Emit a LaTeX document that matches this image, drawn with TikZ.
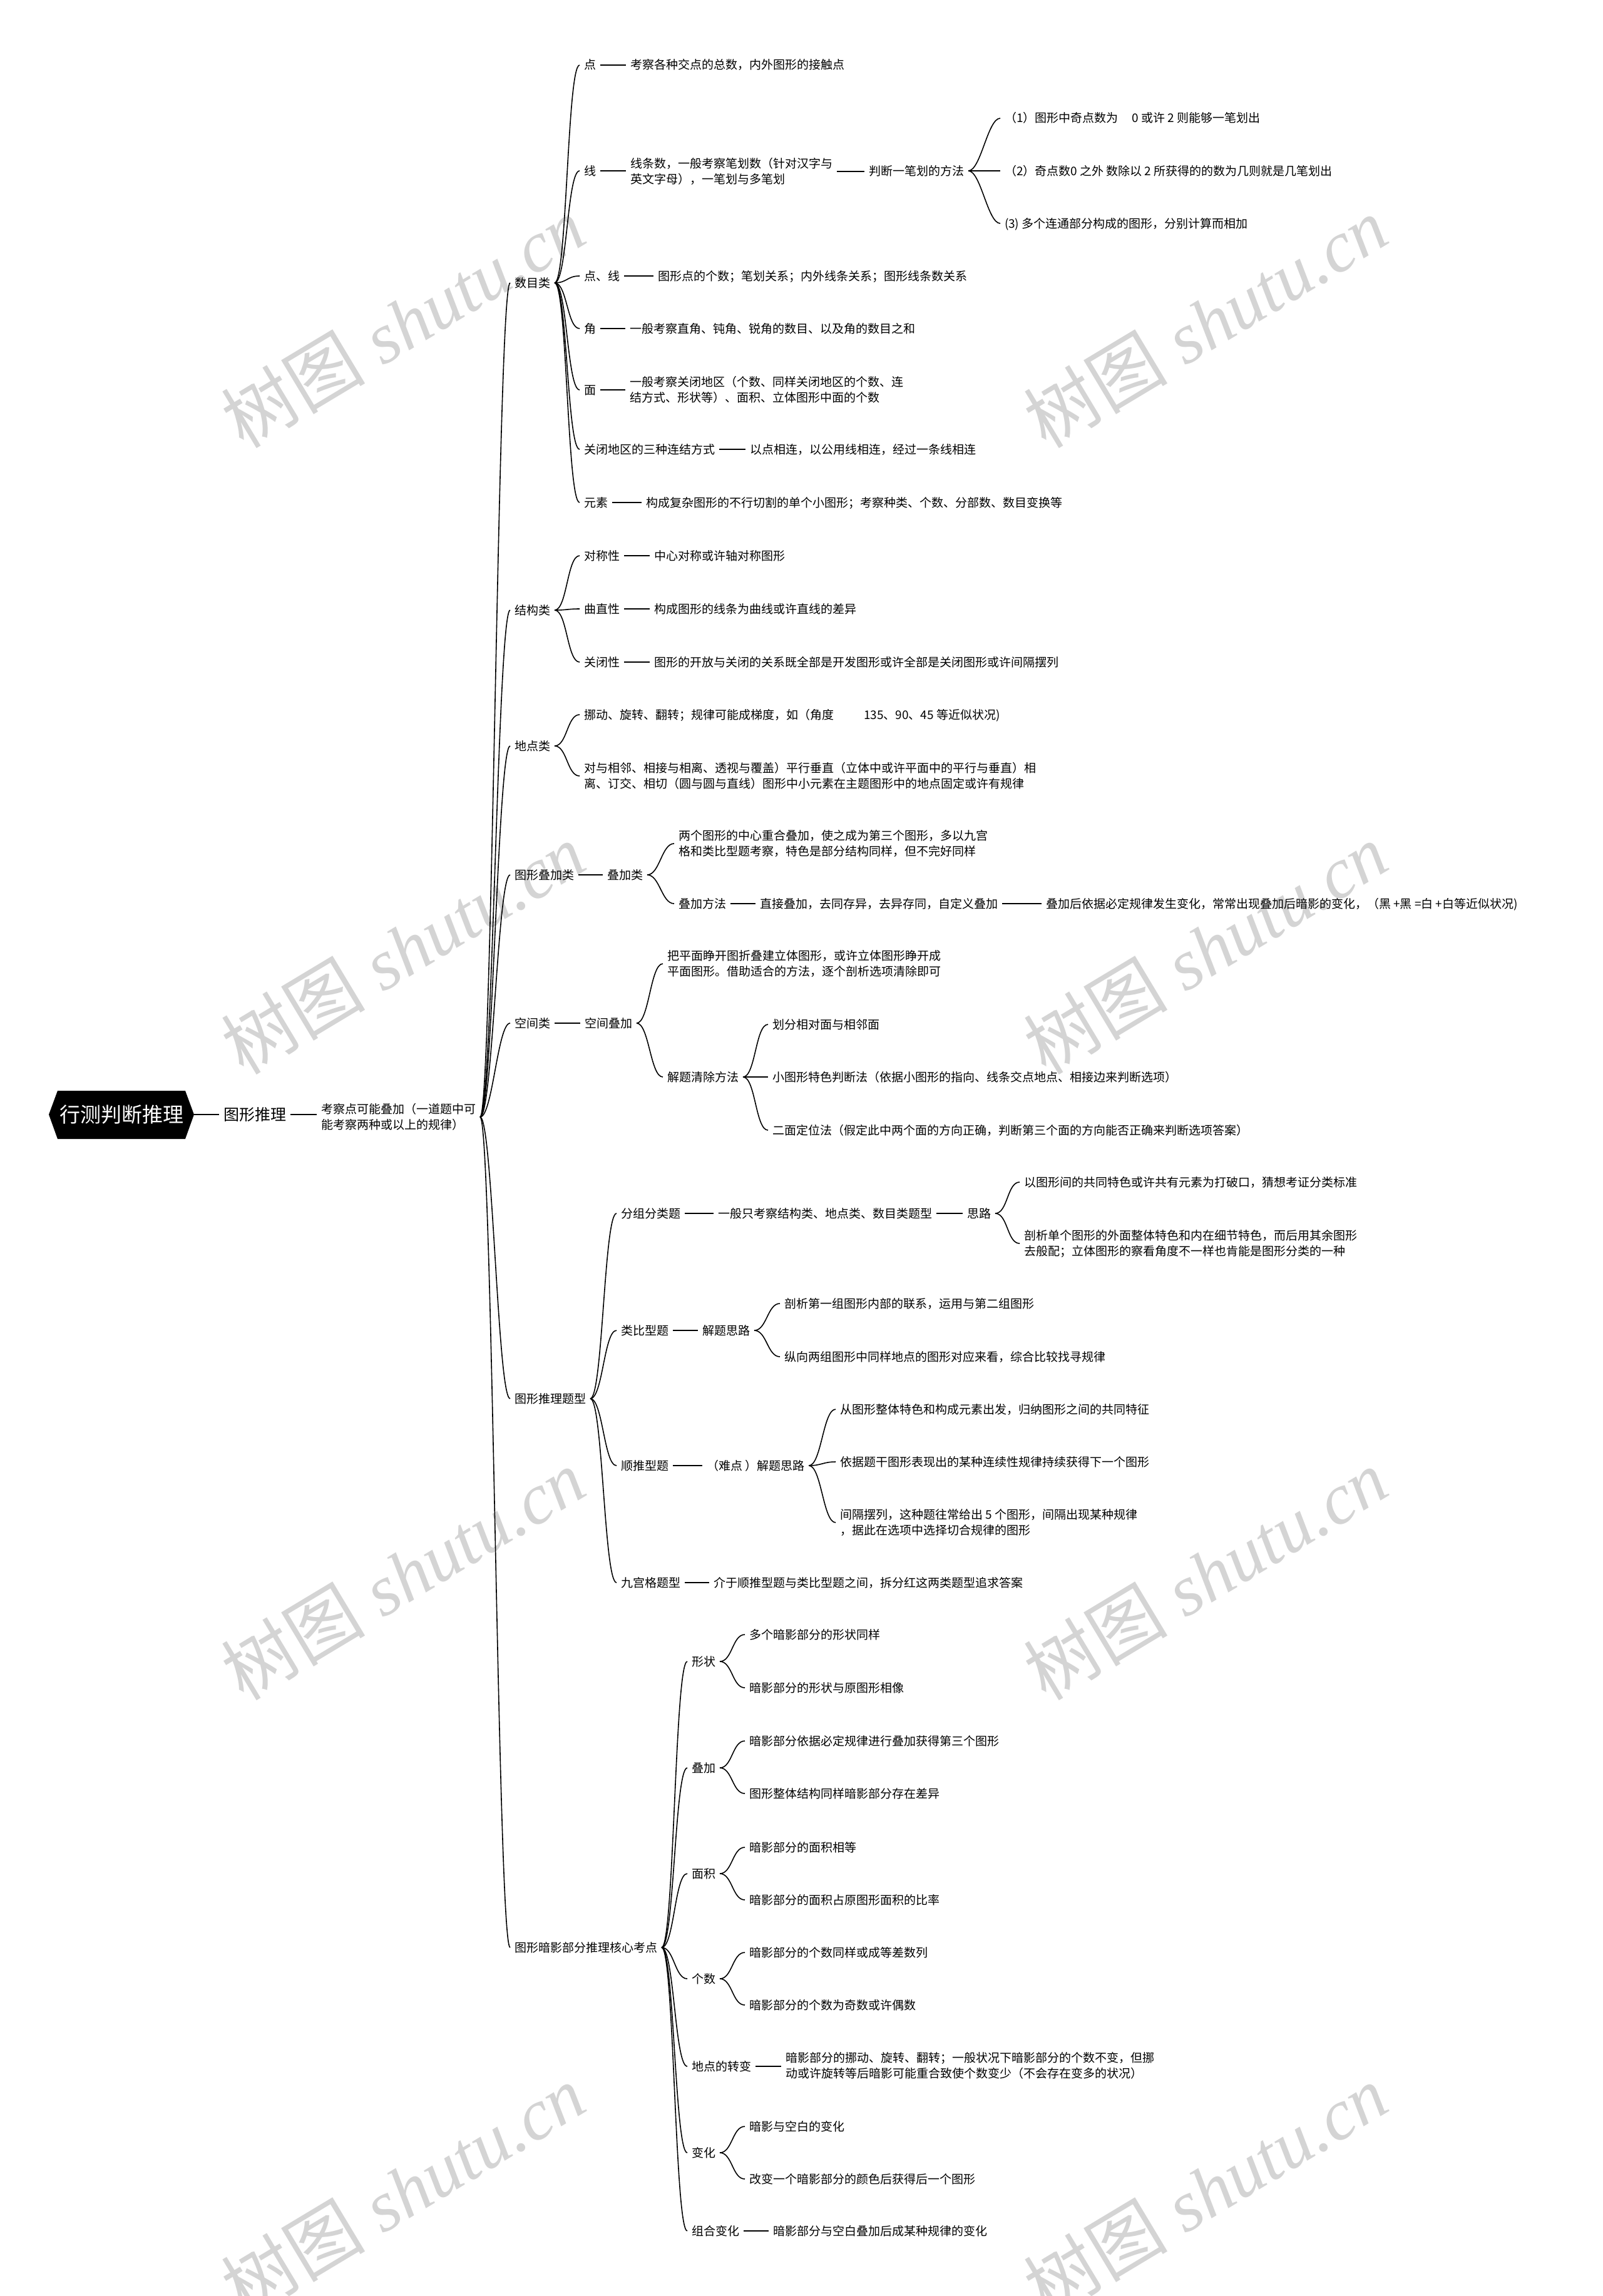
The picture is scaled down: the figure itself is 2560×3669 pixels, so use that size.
\documentclass[tikz,border=0pt]{standalone}
\usepackage{fontspec}
\setmainfont{Noto Sans CJK SC}
\newfontfamily\wmlat{Liberation Serif}
\tikzset{
  cn/.style={line width=1.6pt, black},
  t/.style={anchor=west, xshift=-7pt, inner xsep=0pt, inner ysep=0pt, outer xsep=7pt, outer ysep=0pt, font=\fontsize{19}{25}\selectfont, text height=16.5pt, text depth=2.5pt},
  tm/.style={anchor=west, xshift=-7pt, inner xsep=0pt, inner ysep=0pt, outer xsep=7pt, outer ysep=0pt, font=\fontsize{19}{25}\selectfont, align=left},
  wm/.style={text=black!17, font=\fontsize{115}{115}\selectfont, rotate=31, inner sep=0pt},
}
\newcommand\mmcurve[2]{\draw[cn] (#1.east) .. controls +(20,0) and +(-20,0) .. (#2.west);}
\newcommand\mmline[2]{\draw[cn] (#1.east) -- (#1.east -| #2.west);}
\begin{document}
\begin{tikzpicture}[x=1pt,y=-1pt]
\useasboundingbox (0,0) rectangle (2560,3669);
\fill[white] (0,0) rectangle (2560,3669);
% watermarks
\foreach \wx/\wy [count=\i] in {644/515, 1926/515, 644/1516, 1926/1516, 644/2516, 1926/2516, 644/3500, 1926/3500}
  \node[wm] (wm\i) at (\wx,\wy) {树图\hspace{0.25em}{\wmlat\itshape shutu.cn}};
% root
\fill[black] (78,1781) -- (92,1743) -- (296,1743) -- (310,1781) -- (296,1820) -- (92,1820) -- cycle;
\node[inner sep=0pt, minimum width=232pt, minimum height=77pt, text=white, font=\fontsize{33}{33}\selectfont] (root) at (194,1781) {行测判断推理};
\node[t, font=\fontsize{25}{30}\selectfont, text height=21.7pt, text depth=3.3pt] (L1) at (357,1781) {图形推理};
\node[tm] (L2) at (513,1785) {考察点可能叠加（一道题中可\\能考察两种或以上的规律）};
\draw[cn] (root.east) -- (L1.west);
\mmline{L1}{L2}
% level 3
\node[t] (sm) at (822,452) {数目类};
\node[t] (jg) at (822,975) {结构类};
\node[t] (dd) at (822,1192) {地点类};
\node[t] (dj) at (822,1398) {图形叠加类};
\node[t] (kj) at (822,1635) {空间类};
\node[t] (tx) at (822,2235) {图形推理题型};
\node[t] (ay) at (822,3112) {图形暗影部分推理核心考点};
\foreach \c in {sm,jg,dd,dj,kj,tx,ay} {\mmcurve{L2}{\c}}
% 数目类
\node[t] (s1) at (933,104) {点};
\node[t] (s1a) at (1007,104) {考察各种交点的总数，内外图形的接触点};
\node[t] (s2) at (933,273) {线};
\node[tm] (s2a) at (1007,274) {线条数，一般考察笔划数（针对汉字与\\英文字母），一笔划与多笔划};
\node[t] (s2b) at (1388,273) {判断一笔划的方法};
\node[t] (s2b1) at (1605,189) {（1）图形中奇点数为\hspace{22pt}0 或许 2 则能够一笔划出};
\node[t] (s2b2) at (1605,273) {（2）奇点数0 之外 数除以 2 所获得的的数为几则就是几笔划出};
\node[t] (s2b3) at (1605,357) {(3) 多个连通部分构成的图形，分别计算而相加};
\node[t] (s3) at (933,441) {点、线};
\node[t] (s3a) at (1051,441) {图形点的个数；笔划关系；内外线条关系；图形线条数关系};
\node[t] (s4) at (933,525) {角};
\node[t] (s4a) at (1006,525) {一般考察直角、钝角、锐角的数目、以及角的数目之和};
\node[t] (s5) at (933,623) {面};
\node[tm] (s5a) at (1006,623) {一般考察关闭地区（个数、同样关闭地区的个数、连\\结方式、形状等）、面积、立体图形中面的个数};
\node[t] (s6) at (933,718) {关闭地区的三种连结方式};
\node[t] (s6a) at (1198,718) {以点相连，以公用线相连，经过一条线相连};
\node[t] (s7) at (933,803) {元素};
\node[t] (s7a) at (1032,803) {构成复杂图形的不行切割的单个小图形；考察种类、个数、分部数、数目变换等};
\foreach \c in {s1,s2,s3,s4,s5,s6,s7} {\mmcurve{sm}{\c}}
\mmline{s1}{s1a} \mmline{s2}{s2a} \mmline{s2a}{s2b}
\foreach \c in {s2b1,s2b2,s2b3} {\mmcurve{s2b}{\c}}
\mmline{s3}{s3a} \mmline{s4}{s4a} \mmline{s5}{s5a} \mmline{s6}{s6a} \mmline{s7}{s7a}
% 结构类
\node[t] (j1) at (933,888) {对称性};
\node[t] (j1a) at (1045,888) {中心对称或许轴对称图形};
\node[t] (j2) at (933,973) {曲直性};
\node[t] (j2a) at (1045,973) {构成图形的线条为曲线或许直线的差异};
\node[t] (j3) at (933,1058) {关闭性};
\node[t] (j3a) at (1045,1058) {图形的开放与关闭的关系既全部是开发图形或许全部是关闭图形或许间隔摆列};
\foreach \c in {j1,j2,j3} {\mmcurve{jg}{\c}}
\mmline{j1}{j1a} \mmline{j2}{j2a} \mmline{j3}{j3a}
% 地点类
\node[t] (d1) at (933,1142) {挪动、旋转、翻转；规律可能成梯度，如（角度\hspace{48pt}135、90、45 等近似状况)};
\node[tm] (d2) at (933,1240) {对与相邻、相接与相离、透视与覆盖）平行垂直（立体中或许平面中的平行与垂直）相\\离、订交、相切（圆与圆与直线）图形中小元素在主题图形中的地点固定或许有规律};
\foreach \c in {d1,d2} {\mmcurve{dd}{\c}}
% 图形叠加类
\node[t] (dj1) at (970,1398) {叠加类};
\node[tm] (dj1a) at (1084,1348) {两个图形的中心重合叠加，使之成为第三个图形，多以九宫\\格和类比型题考察，特色是部分结构同样，但不完好同样};
\node[t] (dj1b) at (1084,1444) {叠加方法};
\node[t] (dj1c) at (1214,1444) {直接叠加，去同存异，去异存同，自定义叠加\hspace{28pt}};
\node[t] (dj1d) at (1671,1444) {叠加后依据必定规律发生变化，常常出现叠加后暗影的变化，（黑 +黑 =白 +白等近似状况)};
\mmline{dj}{dj1}
\foreach \c in {dj1a,dj1b} {\mmcurve{dj1}{\c}}
\mmline{dj1b}{dj1c} \mmline{dj1c}{dj1d}
% 空间类
\node[t] (k0) at (934,1635) {空间叠加};
\node[tm] (k1) at (1066,1540) {把平面睁开图折叠建立体图形，或许立体图形睁开成\\平面图形。借助适合的方法，逐个剖析选项清除即可};
\node[t] (k2) at (1066,1721) {解题清除方法};
\node[t] (k21) at (1234,1637) {划分相对面与相邻面};
\node[t] (k22) at (1234,1721) {小图形特色判断法（依据小图形的指向、线条交点地点、相接边来判断选项）};
\node[t] (k23) at (1234,1806) {二面定位法（假定此中两个面的方向正确，判断第三个面的方向能否正确来判断选项答案）};
\mmline{kj}{k0}
\foreach \c in {k1,k2} {\mmcurve{k0}{\c}}
\foreach \c in {k21,k22,k23} {\mmcurve{k2}{\c}}
% 图形推理题型
\node[t] (t1) at (992,1939) {分组分类题};
\node[t] (t1a) at (1147,1939) {一般只考察结构类、地点类、数目类题型};
\node[t] (t1b) at (1545,1939) {思路};
\node[t] (t1b1) at (1636,1889) {以图形间的共同特色或许共有元素为打破口，猜想考证分类标准};
\node[tm] (t1b2) at (1636,1987) {剖析单个图形的外面整体特色和内在细节特色，而后用其余图形\\去般配；立体图形的察看角度不一样也肯能是图形分类的一种};
\node[t] (t2) at (992,2126) {类比型题};
\node[t] (t2a) at (1122,2126) {解题思路};
\node[t] (t2a1) at (1253,2083) {剖析第一组图形内部的联系，运用与第二组图形};
\node[t] (t2a2) at (1253,2168) {纵向两组图形中同样地点的图形对应来看，综合比较找寻规律};
\node[t] (t3) at (992,2342) {顺推型题};
\node[t] (t3a) at (1129,2342) {（难点 ）解题思路};
\node[t] (t3a1) at (1342,2252) {从图形整体特色和构成元素出发，归纳图形之间的共同特征};
\node[t] (t3a2) at (1342,2336) {依据题干图形表现出的某种连续性规律持续获得下一个图形};
\node[tm] (t3a3) at (1342,2433) {间隔摆列，这种题往常给出 5 个图形，间隔出现某种规律\\，据此在选项中选择切合规律的图形};
\node[t] (t4) at (992,2529) {九宫格题型};
\node[t] (t4a) at (1140,2529) {介于顺推型题与类比型题之间，拆分红这两类题型追求答案};
\foreach \c in {t1,t2,t3,t4} {\mmcurve{tx}{\c}}
\mmline{t1}{t1a} \mmline{t1a}{t1b}
\foreach \c in {t1b1,t1b2} {\mmcurve{t1b}{\c}}
\mmline{t2}{t2a}
\foreach \c in {t2a1,t2a2} {\mmcurve{t2a}{\c}}
\mmline{t3}{t3a}
\foreach \c in {t3a1,t3a2,t3a3} {\mmcurve{t3a}{\c}}
\mmline{t4}{t4a}
% 暗影
\node[t] (a1) at (1105,2655) {形状};
\node[t] (a1a) at (1197,2612) {多个暗影部分的形状同样};
\node[t] (a1b) at (1197,2697) {暗影部分的形状与原图形相像};
\node[t] (a2) at (1105,2825) {叠加};
\node[t] (a2a) at (1197,2782) {暗影部分依据必定规律进行叠加获得第三个图形};
\node[t] (a2b) at (1197,2866) {图形整体结构同样暗影部分存在差异};
\node[t] (a3) at (1105,2994) {面积};
\node[t] (a3a) at (1197,2952) {暗影部分的面积相等};
\node[t] (a3b) at (1197,3036) {暗影部分的面积占原图形面积的比率};
\node[t] (a4) at (1105,3162) {个数};
\node[t] (a4a) at (1197,3120) {暗影部分的个数同样或成等差数列};
\node[t] (a4b) at (1197,3204) {暗影部分的个数为奇数或许偶数};
\node[t] (a5) at (1105,3302) {地点的转变};
\node[tm] (a5a) at (1255,3301) {暗影部分的挪动、旋转、翻转；一般状况下暗影部分的个数不变，但挪\\动或许旋转等后暗影可能重合致使个数变少（不会存在变多的状况）};
\node[t] (a6) at (1105,3440) {变化};
\node[t] (a6a) at (1197,3398) {暗影与空白的变化};
\node[t] (a6b) at (1197,3482) {改变一个暗影部分的颜色后获得后一个图形};
\node[t] (a7) at (1105,3565) {组合变化};
\node[t] (a7a) at (1235,3565) {暗影部分与空白叠加后成某种规律的变化};
\foreach \c in {a1,a2,a3,a4,a5,a6,a7} {\mmcurve{ay}{\c}}
\foreach \c in {a1a,a1b} {\mmcurve{a1}{\c}}
\foreach \c in {a2a,a2b} {\mmcurve{a2}{\c}}
\foreach \c in {a3a,a3b} {\mmcurve{a3}{\c}}
\foreach \c in {a4a,a4b} {\mmcurve{a4}{\c}}
\mmline{a5}{a5a}
\foreach \c in {a6a,a6b} {\mmcurve{a6}{\c}}
\mmline{a7}{a7a}
\end{tikzpicture}
\end{document}
